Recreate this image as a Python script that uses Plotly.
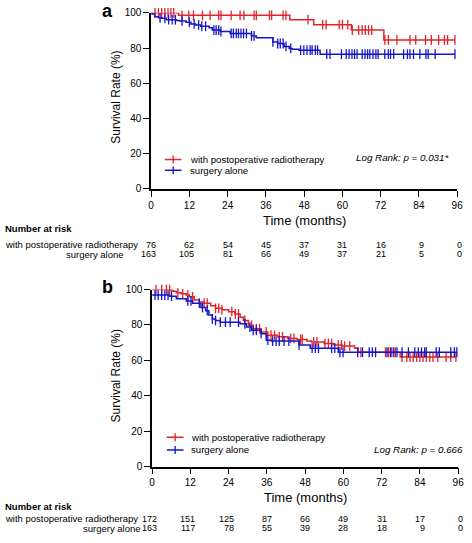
import plotly.graph_objects as go

W, H = 472, 543
RED = "#E0242A"
BLUE = "#1515C8"
FONT = "Liberation Sans, Arial, sans-serif"

month_ticks = [0, 12, 24, 36, 48, 60, 72, 84, 96]
rate_ticks = [0, 20, 40, 60, 80, 100]

# ---------------- Panel a ----------------
a_rt_time = [0, 8.6, 43.5, 51.0, 62.8, 73.0]
a_rt_surv = [100, 98.6, 96.1, 93.3, 90.2, 84.6]
a_rt_cens = [1.2, 2.3, 3.3, 4.3, 5.3, 6.2, 7.1, 9.7, 11.8, 13.3, 16.1, 18.5, 21.2, 21.9,
             25.1, 27.9, 29.1, 32.3, 33.0, 37.1, 37.8, 41.4, 42.3, 49.2, 53.8, 54.9, 59.0,
             60.0, 61.7, 63.1, 65.1, 66.2, 67.2, 68.2, 69.2, 73.3, 74.4, 77.1, 81.2, 83.0,
             86.1, 87.9, 90.2, 92.0, 93.0, 95.3]

a_sa_time = [0, 0.3, 1.2, 2.3, 3.3, 4.8, 7.9, 8.9, 11.0, 12.5, 14.0, 15.6, 18.2, 19.2, 21.7,
             24.8, 31.5, 33.0, 38.2, 39.7, 41.7, 43.3, 44.3, 46.4, 53.0]
a_sa_surv = [100, 99.3, 97.8, 97.2, 96.9, 96.1, 95.7, 95.4, 94.6, 93.7, 93.1, 92.4, 91.5, 90.2,
             89.4, 88.3, 86.9, 85.8, 83.5, 82.6, 80.9, 79.8, 79.3, 78.8, 76.5]
a_sa_cens = [2.8, 4.3, 5.5, 6.6, 7.6, 9.7, 12.0, 13.5, 14.9, 15.9, 17.1, 19.7, 20.4, 21.2, 21.9,
             25.1, 25.8, 26.7, 27.4, 28.2, 29.0, 29.9, 31.5, 32.3, 38.2, 39.7, 40.5, 41.4, 42.3,
             43.8, 46.9, 47.9, 48.9, 49.9, 50.5, 51.5, 52.2, 55.1, 56.1, 59.7, 61.2, 62.1, 63.0,
             63.8, 64.6, 66.2, 67.1, 67.9, 68.6, 69.6, 70.5, 71.2, 73.3, 74.4, 75.1, 76.1, 79.2,
             80.4, 81.2, 82.3, 84.3, 86.2, 86.9, 89.1, 95.3]

a_risk_rt = [76, 62, 54, 45, 37, 31, 16, 9, 0]
a_risk_sa = [163, 105, 81, 66, 49, 37, 21, 5, 0]
a_pvalue = "Log Rank: p = 0.031*"

# ---------------- Panel b ----------------
b_rt_time = [0, 6.0, 6.6, 7.6, 9.1, 10.7, 11.7, 13.2, 14.8, 16.3, 18.4, 19.9, 21.9, 24.0, 26.0,
             27.6, 28.6, 30.2, 31.7, 34.2, 36.3, 39.4, 42.5, 45.5, 48.6, 50.0, 54.0, 57.0,
             59.6, 63.5, 64.6, 77.8]
b_rt_surv = [100, 99.6, 99.1, 98.2, 97.6, 96.9, 95.9, 94.1, 93.0, 92.3, 90.8, 89.4, 88.6, 87.5,
             86.2, 84.4, 82.6, 79.8, 77.9, 76.1, 74.2, 73.3, 72.4, 71.8, 70.9, 70.4, 69.5, 68.7,
             68.1, 66.9, 64.6, 61.9]
b_rt_cens = [1.2, 3.0, 4.5, 5.5, 8.1, 9.6, 11.2, 12.7, 16.3, 17.3, 19.9, 20.9, 21.9, 25.0, 26.1,
             27.1, 29.1, 31.2, 32.7, 33.7, 35.8, 37.3, 38.4, 39.9, 40.9, 43.5, 44.5, 46.6, 47.1,
             50.7, 51.7, 54.2, 55.3, 56.3, 58.4, 59.4, 60.4, 62.0, 65.5, 73.2, 74.2, 75.2, 76.3,
             78.4, 79.9, 80.9, 81.9, 83.0, 84.0, 85.0, 86.0, 87.1, 88.1, 89.6, 92.2, 93.7, 95.3]

b_sa_time = [0, 5.5, 7.6, 10.7, 12.7, 15.3, 16.8, 17.8, 18.9, 19.9, 21.4, 27.6, 29.6, 31.2,
             34.2, 35.8, 37.3, 46.1, 49.6, 58.4]
b_sa_surv = [96.9, 96.3, 94.8, 93.6, 92.3, 89.9, 88.1, 85.6, 83.4, 82.5, 81.6, 80.7, 78.8, 77.0,
             75.1, 71.4, 70.9, 68.7, 66.9, 64.6]
b_sa_cens = [0.9, 1.9, 3.0, 4.0, 5.0, 6.1, 11.2, 12.2, 14.8, 15.8, 17.3, 18.9, 19.9, 21.4, 23.0,
             24.5, 27.1, 29.1, 30.7, 31.7, 32.7, 34.2, 36.3, 37.8, 38.9, 39.9, 41.4, 42.9, 46.1,
             50.2, 51.2, 52.2, 56.3, 57.3, 58.9, 59.9, 64.5, 66.0, 68.1, 69.1, 70.1, 73.7, 74.8,
             75.8, 76.8, 78.4, 80.4, 82.4, 83.5, 84.5, 85.5, 86.0, 89.1, 90.1, 93.7, 94.8, 95.6]

b_risk_rt = [172, 151, 125, 87, 66, 49, 31, 17, 0]
b_risk_sa = [163, 117, 78, 55, 39, 28, 18, 9, 0]
b_pvalue = "Log Rank: p = 0.666"

group_names = ["with postoperative radiotherapy", "surgery alone"]
group_colors = [RED, BLUE]


def step_at(times, surv, t):
    val = surv[0]
    for ti, si in zip(times, surv):
        if ti <= t:
            val = si
    return val


fig = go.Figure()


def add_group(times, surv, cens, color, xa, ya, name):
    end = max(max(cens), times[-1])
    xs = list(times) + [end]
    ys = list(surv) + [surv[-1]]
    fig.add_trace(go.Scatter(x=xs, y=ys, mode="lines", name=name,
                             line=dict(color=color, width=1.5, shape="hv"),
                             xaxis=xa, yaxis=ya, showlegend=False, cliponaxis=False, hoverinfo="skip"))
    fig.add_trace(go.Scatter(x=cens, y=[step_at(times, surv, c) for c in cens], mode="markers",
                             name=name,
                             marker=dict(symbol="line-ns", size=7, line=dict(color=color, width=1.3)),
                             xaxis=xa, yaxis=ya, showlegend=False, cliponaxis=False))


add_group(a_rt_time, a_rt_surv, a_rt_cens, RED, "x", "y", group_names[0])
add_group(a_sa_time, a_sa_surv, a_sa_cens, BLUE, "x", "y", group_names[1])
add_group(b_rt_time, b_rt_surv, b_rt_cens, RED, "x2", "y2", group_names[0])
add_group(b_sa_time, b_sa_surv, b_sa_cens, BLUE, "x2", "y2", group_names[1])


def py(pix):
    return 1 - pix / H


def px(pix):
    return pix / W


axis_common = dict(showline=True, linecolor="black", linewidth=1.5, ticks="outside", ticklen=6,
                   tickwidth=1.2, tickcolor="black", showgrid=False, zeroline=False,
                   tickfont=dict(family=FONT, size=10, color="black"), fixedrange=True)

fig.update_layout(
    width=W, height=H, margin=dict(l=0, r=0, t=0, b=0),
    paper_bgcolor="white", plot_bgcolor="white",
    font=dict(family=FONT, color="black"),
    showlegend=False,
    xaxis=dict(domain=[px(151), px(463)], range=[0, 96], tickvals=month_ticks, anchor="y", **axis_common),
    yaxis=dict(domain=[py(187), py(7)], range=[0, 100], tickvals=rate_ticks, anchor="x", **axis_common),
    xaxis2=dict(domain=[px(152), px(464)], range=[0, 96], tickvals=month_ticks, anchor="y2", **axis_common),
    yaxis2=dict(domain=[py(471), py(290)], range=[0, 100], tickvals=rate_ticks, anchor="x2", **axis_common),
)

ann = []
shapes = []


def note(text, x, y, xref="paper", xanchor="center", size=10, **kw):
    ann.append(dict(text=text, x=x, y=y, xref=xref, yref="paper", xanchor=xanchor, yanchor="middle",
                    showarrow=False, font=dict(family=FONT, size=size, color="black"), **kw))


# panel letters
note("<b>a</b>", px(99), py(5), xanchor="left", size=18)
note("<b>b</b>", px(99), py(287), xanchor="left", size=18)
# y titles
for yc in (93, 378):
    note("Survival Rate (%)", px(115), py(yc), size=12, textangle=-90)
# x titles
for xr, yc in (("x", 219), ("x2", 503)):
    note("Time (months)", 48, py(yc), xref=xr, size=13)
# p-values
note("<i>" + a_pvalue + "</i>", px(458), py(155), xanchor="right", size=9.8)
note("<i>" + b_pvalue + "</i>", px(471), py(454), xanchor="right", size=9.8)

# legends (drawn by hand for compact spacing)
for (x0, x1, xt, rows) in ((165, 182, 189, (157, 168)), (167, 184, 190, (441, 454))):
    for name, color, yc in zip(group_names, group_colors, rows):
        shapes.append(dict(type="line", xref="paper", yref="paper", x0=px(x0), x1=px(x1),
                           y0=py(yc), y1=py(yc), line=dict(color=color, width=1.5)))
        xm = (x0 + x1) / 2
        shapes.append(dict(type="line", xref="paper", yref="paper", x0=px(xm), x1=px(xm),
                           y0=py(yc - 4), y1=py(yc + 4), line=dict(color=color, width=1.3)))
        note(name, px(xt), py(yc), xanchor="left", size=9.6)

# number at risk
for yc in (228, 512):
    note("<b>Number at risk</b>", 0, py(yc), xanchor="left", size=9.5)

for xr, rows, ys, label_right in (
        ("x", (a_risk_rt, a_risk_sa), (244, 254), (140, 125)),
        ("x2", (b_risk_rt, b_risk_sa), (524.5, 534), (140, 143))):
    for name, vals, yc, lr in zip(group_names, rows, ys, label_right):
        note(name, px(lr), py(yc), xanchor="right", size=9.5)
        for t, v in zip(month_ticks, vals):
            note(str(v), t, py(yc), xref=xr, xanchor="right", size=9, xshift=7)

fig.update_layout(annotations=ann, shapes=shapes)
fig.write_html("out.html", config={"displayModeBar": False},
               post_script="document.body.style.margin='0';")
